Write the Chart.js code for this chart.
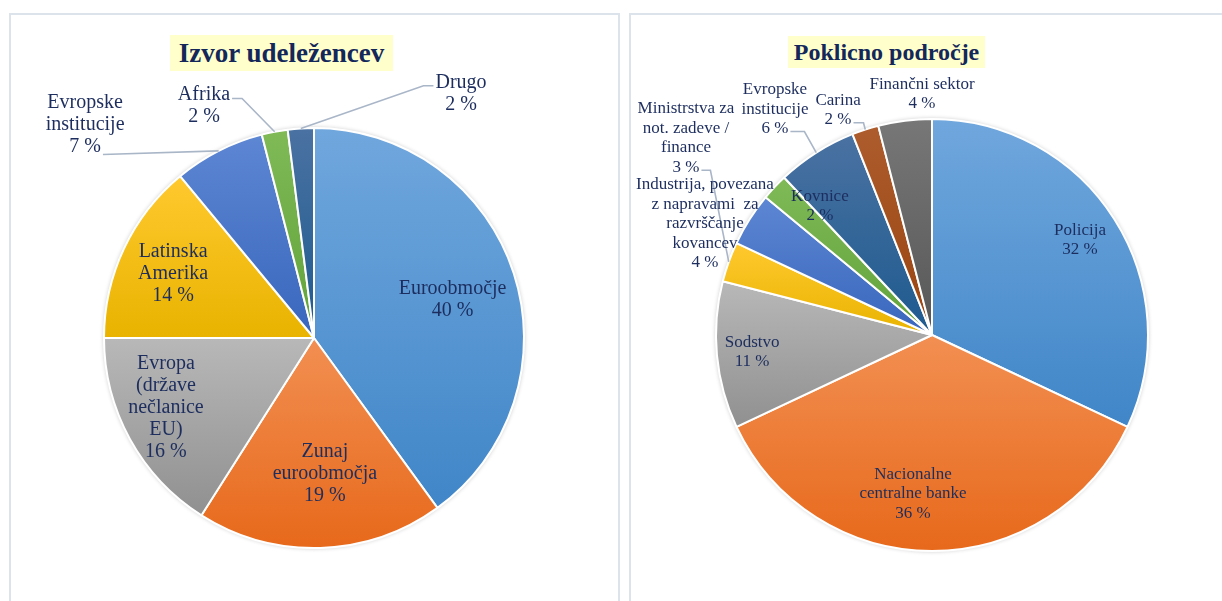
<!DOCTYPE html>
<html>
<head>
<meta charset="utf-8">
<script src="https://cdn.jsdelivr.net/npm/chart.js@4.4.1/dist/chart.umd.min.js"></script>
<style>
  html, body { margin: 0; padding: 0; background: #fff; overflow: hidden; width: 1222px; height: 601px; }
  .panel { position: absolute; border: 2px solid #dde3ea; box-sizing: border-box; background: #fff; }
  #p1 { left: 9px; top: 13px; width: 611px; height: 640px; }
  #p2 { left: 629px; top: 13px; width: 700px; height: 640px; }
  canvas { position: absolute; left: 0; top: 0; }
  .ttl { position: absolute; z-index: 5; background: #ffffcc; color: #13275a; white-space: nowrap; text-align: center;
         font-family: 'Liberation Serif', 'Times New Roman', serif; font-weight: bold; }
  #t1 { left: 170px; top: 35px; width: 223px; height: 36px; line-height: 36px; font-size: 27px; }
  #t2 { left: 788px; top: 36px; width: 197px; height: 32px; line-height: 32px; font-size: 24px; }
</style>
</head>
<body>
<div class="panel" id="p1"></div>
<div class="panel" id="p2"></div>
<canvas id="c1" width="1222" height="601"></canvas>
<canvas id="c2" width="1222" height="601"></canvas>
<div class="ttl" id="t1">Izvor udeležencev</div>
<div class="ttl" id="t2">Poklicno področje</div>
<script>
// data (percent)
const srcLabels = ['Euroobmočje', 'Zunaj\neuroobmočja', 'Evropa\n(države\nnečlanice\nEU)', 'Latinska\nAmerika',
  'Evropske\ninstitucije', 'Afrika', 'Drugo'];
const srcValues = [40, 19, 16, 14, 7, 2, 2];

const jobLabels = ['Policija', 'Nacionalne\ncentralne banke', 'Sodstvo', 'Ministrstva za\nnot. zadeve /\nfinance',
  'Industrija, povezana\nz napravami  za\nrazvrščanje\nkovancev', 'Kovnice', 'Evropske\ninstitucije', 'Carina', 'Finančni sektor'];
const jobValues = [32, 36, 11, 3, 4, 2, 6, 2, 4];

// office-like gradient fills, [top, bottom]
const blue = ['#70a7dd', '#4086c8'], orange = ['#f28f52', '#e7691b'], grey = ['#b8b8b8', '#909090'],
  gold = ['#ffc92f', '#e9b300'], blue2 = ['#5d87d3', '#3966bd'], green = ['#7fba57', '#61a23a'],
  navy = ['#4a72a2', '#1e5a8f'], brown = ['#ad5c2d', '#9a4410'], dgrey = ['#777777', '#575757'];
const srcPalette = [blue, orange, grey, gold, blue2, green, navy];
const jobPalette = [blue, orange, grey, gold, blue2, green, navy, brown, dgrey];

// label placement: text block centre as fraction of radius from the pie centre
const srcPos = [[0.66, -0.18], [0.052, 0.648], [-0.705, 0.331], [-0.671, -0.305], [-1.09, -1.017], [-0.524, -1.107], [0.70, -1.163]];
const jobPos = [[0.685, -0.44], [-0.088, 0.736], [-0.833, 0.079], [-1.139, -0.912], [-1.051, -0.516], [-0.519, -0.597],
  [-0.727, -1.046], [-0.435, -1.042], [-0.046, -1.116]];
const srcLeaders = [null, null, null, null, { line: 2, side: 1, stub: 0, dy: 8 }, { line: 0, side: 1, stub: 10, dy: 4 },
  { line: 0, side: -1, stub: 10, dy: 3 }];
const jobLeaders = [null, null, null, { line: 3, side: 1, stub: 9, dy: 3 }, null, null, { line: 2, side: 1, stub: 14, dy: 3 },
  { line: 1, side: 1, stub: 10, dy: 3 }, null];

function arcBox(p) {
  const ys = [p.y, p.y + p.outerRadius * Math.sin(p.startAngle), p.y + p.outerRadius * Math.sin(p.endAngle)];
  for (let k = -2; k <= 2; k++) {
    const down = Math.PI / 2 + 2 * Math.PI * k, up = -Math.PI / 2 + 2 * Math.PI * k;
    if (down > p.startAngle && down < p.endAngle) ys.push(p.y + p.outerRadius);
    if (up > p.startAngle && up < p.endAngle) ys.push(p.y - p.outerRadius);
  }
  return [Math.min(...ys), Math.max(...ys)];
}

const gradientFill = {
  id: 'gradientFill',
  beforeDatasetsDraw(chart, args, opts) {
    const c = chart.ctx;
    const meta = chart.getDatasetMeta(0);
    if (!meta.data.length) return;
    const p0 = meta.data[0].getProps(['x', 'y', 'outerRadius']);
    // faint rim round the pie
    c.save();
    c.shadowColor = 'rgba(0,0,0,0.22)';
    c.shadowBlur = 4;
    c.fillStyle = '#fff';
    c.beginPath(); c.arc(p0.x, p0.y, p0.outerRadius + 0.5, 0, Math.PI * 2); c.fill();
    c.restore();
    meta.data.forEach((arc, i) => {
      const p = arc.getProps(['x', 'y', 'startAngle', 'endAngle', 'outerRadius']);
      const [top, bot] = arcBox(p);
      const g = c.createLinearGradient(0, top, 0, bot);
      g.addColorStop(0, opts.palette[i][0]);
      g.addColorStop(1, opts.palette[i][1]);
      try { arc.options.backgroundColor = g; } catch (e) {}
    });
  }
};

const sliceLabels = {
  id: 'sliceLabels',
  afterDatasetsDraw(chart, args, opts) {
    const c = chart.ctx;
    const meta = chart.getDatasetMeta(0);
    const vals = chart.data.datasets[0].data;
    c.save();
    c.font = opts.size + 'px "Liberation Serif", "Times New Roman", serif';
    c.textAlign = 'center';
    c.textBaseline = 'middle';
    meta.data.forEach((arc, i) => {
      const p = arc.getProps(['x', 'y', 'startAngle', 'endAngle', 'outerRadius']);
      const lines = chart.data.labels[i].split('\n').concat([vals[i] + ' %']);
      const cx = p.x + opts.pos[i][0] * p.outerRadius;
      const cy = p.y + opts.pos[i][1] * p.outerRadius;
      const y0 = cy - (lines.length - 1) / 2 * opts.lineH;
      const L = opts.leaders[i];
      if (L) {
        const ly = y0 + L.line * opts.lineH + L.dy;
        const w = c.measureText(lines[L.line]).width;
        const sx = cx + L.side * (w / 2 + 2);
        const mid = (p.startAngle + p.endAngle) / 2;
        c.strokeStyle = '#a9b6c8';
        c.lineWidth = 1.6;
        c.beginPath();
        c.moveTo(sx, ly);
        c.lineTo(sx + L.side * L.stub, ly);
        c.lineTo(p.x + p.outerRadius * Math.cos(mid), p.y + p.outerRadius * Math.sin(mid));
        c.stroke();
      }
      c.fillStyle = '#1c2d5e';
      lines.forEach((t, k) => c.fillText(t, cx, y0 + k * opts.lineH));
    });
    c.restore();
  }
};

function makePie(id, labels, values, palette, pad, radius, labelOpts) {
  return new Chart(document.getElementById(id), {
    type: 'pie',
    data: {
      labels: labels,
      datasets: [{
        data: values,
        backgroundColor: (ctx) => palette[ctx.dataIndex][1],
        borderColor: '#ffffff',
        borderWidth: 2
      }]
    },
    options: {
      responsive: false,
      devicePixelRatio: 1,
      animation: false,
      events: [],
      radius: radius,
      layout: { padding: pad },
      plugins: {
        legend: { display: false },
        tooltip: { enabled: false },
        gradientFill: { palette: palette },
        sliceLabels: labelOpts
      }
    },
    plugins: [gradientFill, sliceLabels]
  });
}

makePie('c1', srcLabels, srcValues, srcPalette, { left: 0, right: 594, top: 100, bottom: 25 }, 210,
  { size: 20, lineH: 22, pos: srcPos, leaders: srcLeaders });
makePie('c2', jobLabels, jobValues, jobPalette, { left: 642, right: 0, top: 90, bottom: 21 }, 216,
  { size: 17, lineH: 19.5, pos: jobPos, leaders: jobLeaders });
</script>
</body>
</html>
